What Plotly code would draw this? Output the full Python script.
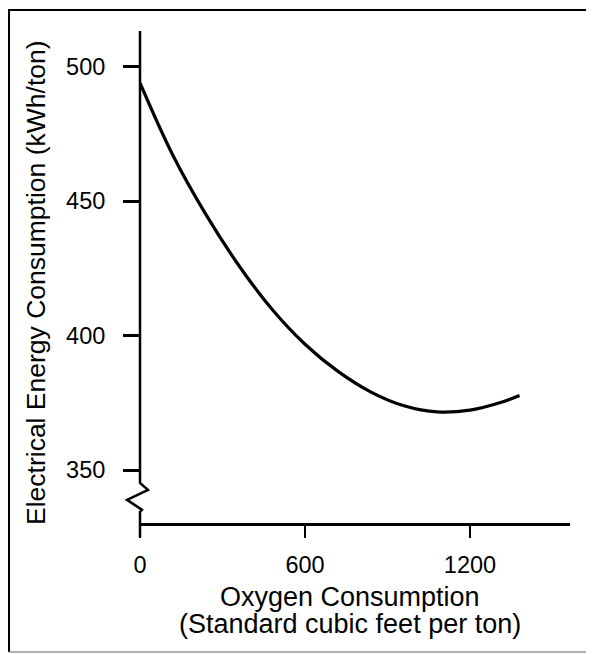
import plotly.graph_objects as go

# Data
oxygen = [0, 120, 240, 360, 480, 600, 720, 840, 960, 1080, 1200, 1320, 1380]
energy = [494, 467, 445, 426, 409.8, 396.8, 386.7, 379, 373.9, 371.6, 372.3, 375.4, 377.7]

x_ticks = [0, 600, 1200]
y_ticks = [350, 400, 450, 500]

x_range = [0, 1563.6]
y_range = [330.3, 513.3]

# y-axis line with break symbol (decoration, in data units)
axis_x = [0, 0, 29, -47, 7, 0, 0]
axis_y = [513.3, 345.2, 342.6, 338.9, 335.2, 334.4, 325.1]

FONT = "Liberation Sans, Arial, sans-serif"

# page body has an 8px margin: figure sized so that it ends at the window edge
OFF = 8
W, H = 594 - OFF, 654 - OFF
PL, PR, PT, PB = 140, 570, 31, 523  # plot area in window pixels
PW, PH = PR - PL, PB - PT


def px_x(px):
    return (px - PL) / PW


def px_y(py):
    return (PB - py) / PH


def dx(v):
    return (v - x_range[0]) / (x_range[1] - x_range[0])


def dy(v):
    return (v - y_range[0]) / (y_range[1] - y_range[0])


fig = go.Figure()
fig.add_trace(go.Scatter(
    x=oxygen, y=energy, mode="lines",
    line=dict(color="black", width=3.2, shape="spline"),
    hoverinfo="skip", showlegend=False))

fig.update_layout(
    width=W, height=H,
    margin=dict(l=PL - OFF, r=594 - PR, t=PT - OFF, b=654 - PB),
    paper_bgcolor="white", plot_bgcolor="white",
    font=dict(family=FONT, color="black"),
    showlegend=False,
    xaxis=dict(
        range=x_range, tickvals=x_ticks, ticktext=[str(v) for v in x_ticks],
        showgrid=False, zeroline=False, showline=True, linecolor="black", linewidth=2.5,
        ticks="outside", ticklen=12, tickwidth=2, tickcolor="black",
        tickfont=dict(size=23.5, family=FONT), ticklabelstandoff=7),
    yaxis=dict(
        range=y_range, tickvals=y_ticks, ticktext=[str(v) for v in y_ticks],
        showgrid=False, zeroline=False, showline=False,
        ticks="outside", ticklen=16, tickwidth=2.5, tickcolor="black",
        tickfont=dict(size=23.5, family=FONT), ticklabelstandoff=13),
)

# y-axis line with break symbol, drawn in paper coords so it is not clipped
path = "M " + " L ".join(f"{dx(a)} {dy(b)}" for a, b in zip(axis_x, axis_y))
fig.add_shape(type="path", xref="paper", yref="paper", path=path,
              line=dict(color="black", width=2.5))

# Axis titles
fig.add_annotation(text="Oxygen Consumption", xref="paper", yref="paper",
                   x=px_x(350), y=px_y(597), showarrow=False,
                   font=dict(size=27, family=FONT), xanchor="center", yanchor="middle")
fig.add_annotation(text="(Standard cubic feet per ton)", xref="paper", yref="paper",
                   x=px_x(350), y=px_y(624), showarrow=False,
                   font=dict(size=27, family=FONT), xanchor="center", yanchor="middle")
fig.add_annotation(text="Electrical Energy Consumption (kWh/ton)", xref="paper", yref="paper",
                   x=px_x(36), y=px_y(283), showarrow=False, textangle=-90,
                   font=dict(size=26.5, family=FONT), xanchor="center", yanchor="middle")

# Frame around the figure
fx0, fx1 = px_x(9), px_x(591)
fy0, fy1 = px_y(652), px_y(10)
fig.add_shape(type="path", xref="paper", yref="paper",
              path=f"M {fx0} {fy0} L {fx0} {fy1} L {fx1} {fy1} L {fx1} {fy0}",
              line=dict(color="black", width=2))
fig.add_shape(type="line", xref="paper", yref="paper",
              x0=fx0, x1=fx1, y0=fy0, y1=fy0, line=dict(color="#999999", width=1.5))

fig.write_html("out.html")
